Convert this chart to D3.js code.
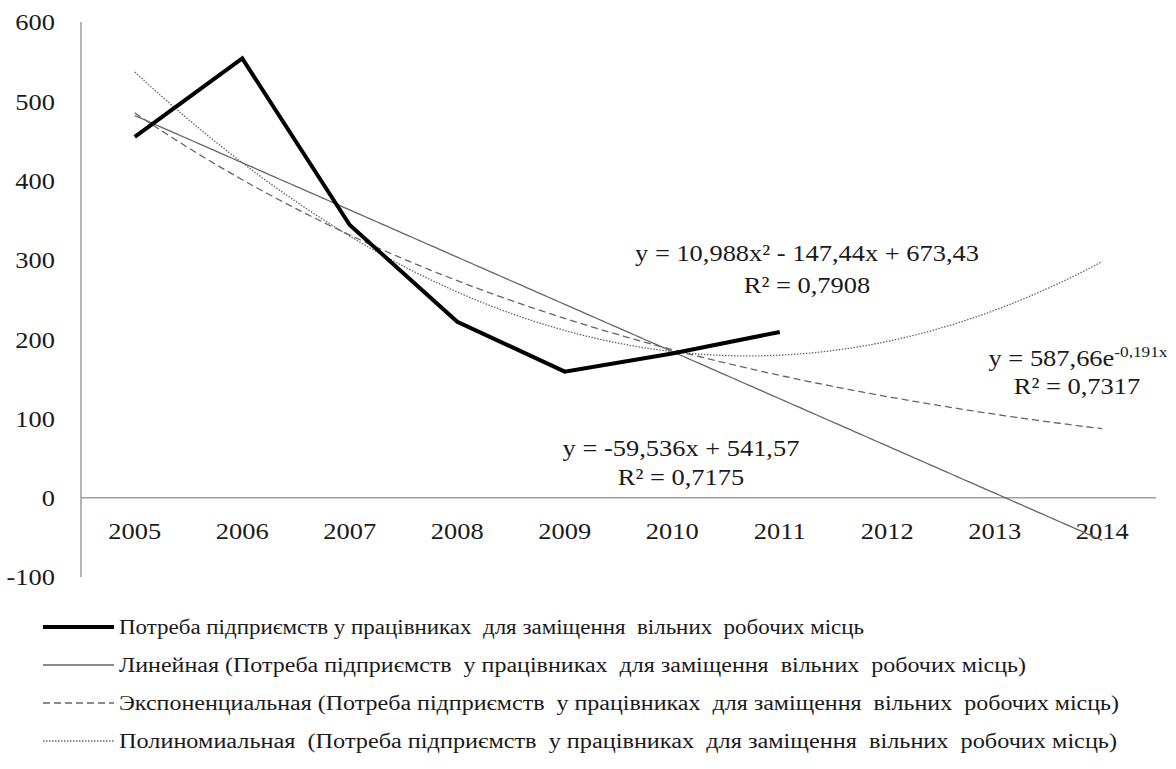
<!DOCTYPE html>
<html>
<head>
<meta charset="utf-8">
<script src="https://cdn.jsdelivr.net/npm/d3@7"></script>
<style>
  html, body { margin: 0; padding: 0; background: #fff; }
  #chart text {
    font-family: "Liberation Serif", "Times New Roman", Times, "Nimbus Roman", "Nimbus Roman No9 L",
                 "FreeSerif", "Noto Serif", "DejaVu Serif", Tinos, serif;
    fill: #1a1a1a; white-space: pre;
  }
</style>
</head>
<body>
<svg id="chart" width="1176" height="769"></svg>
<script>
// Years on the category axis
const years = ["2005", "2006", "2007", "2008", "2009", "2010", "2011", "2012", "2013", "2014"];
// Enterprise demand for workers to fill vacancies (2005–2011)
const demand = [455, 554, 344, 222, 159, 182, 209];
// Trendline coefficients (x = 1 for 2005)
const linearCoef = [-59.536, 541.57];        // y = a*x + b
const expCoef = [587.66, -0.191];            // y = a*e^(b*x)
const polyCoef = [10.988, -147.44, 673.43];  // y = a*x^2 + b*x + c
const yTicks = [-100, 0, 100, 200, 300, 400, 500, 600];
const legendLabels = [
  "Потреба підприємств у працівниках  для заміщення  вільних  робочих місць",
  "Линейная (Потреба підприємств  у працівниках  для заміщення  вільних  робочих місць)",
  "Экспоненциальная (Потреба підприємств  у працівниках  для заміщення  вільних  робочих місць)",
  "Полиномиальная  (Потреба підприємств  у працівниках  для заміщення  вільних  робочих місць)"
];

const svg = d3.select("#chart");
const plotLeft = 81, plotRight = 1156, plotTop = 22, plotBottom = 577;

const x = d3.scaleBand().domain(years).range([plotLeft, plotRight]);
const xi = d3.scaleLinear().domain([0.5, years.length + 0.5]).range([plotLeft, plotRight]);
const y = d3.scaleLinear().domain([-100, 600]).range([plotBottom, plotTop]);

function label(sel, tx, ty, txt, size, anchor, sx) {
  return sel.append("text")
    .attr("transform", `translate(${tx},${ty}) scale(${sx},1)`)
    .attr("text-anchor", anchor)
    .attr("dominant-baseline", "central")
    .style("font-size", size + "px")
    .text(txt);
}

// Y axis line
svg.append("line").attr("x1", plotLeft).attr("x2", plotLeft).attr("y1", plotTop).attr("y2", plotBottom)
  .attr("stroke", "#a0a0a0").attr("stroke-width", 1.6);
// Y tick labels
const yAxis = d3.axisLeft(y).tickValues(yTicks).tickSize(0).tickPadding(0).tickFormat(d3.format("d"));
const yg = svg.append("g").attr("transform", `translate(${plotLeft},0)`).call(yAxis);
yg.attr("font-family", null);
yg.select(".domain").remove();
yg.selectAll(".tick text").remove();
yg.selectAll(".tick").each(function(d) {
  label(d3.select(this), -26, 0, String(d), 23, "end", 1.15);
});

// Zero line with year labels below it
svg.append("line").attr("x1", plotLeft).attr("x2", plotRight).attr("y1", y(0)).attr("y2", y(0))
  .attr("stroke", "#a0a0a0").attr("stroke-width", 1.6);
const xAxis = d3.axisBottom(x).tickSize(0).tickPadding(0);
const xg = svg.append("g").attr("transform", `translate(0,${y(0)})`).call(xAxis);
xg.attr("font-family", null);
xg.select(".domain").remove();
xg.selectAll(".tick text").remove();
xg.selectAll(".tick").each(function(d) {
  label(d3.select(this), 0, 33, d, 23, "middle", 1.15);
});

// Trendlines, sampled from x = 1 (2005) to x = 10 (2014)
const ts = d3.range(1, 10.0001, 0.05);
const trendLine = d3.line().x(d => xi(d[0])).y(d => y(d[1]));
const linPts = ts.map(t => [t, linearCoef[0] * t + linearCoef[1]]);
const expPts = ts.map(t => [t, expCoef[0] * Math.exp(expCoef[1] * t)]);
const polyPts = ts.map(t => [t, polyCoef[0] * t * t + polyCoef[1] * t + polyCoef[2]]);

svg.append("path").attr("d", trendLine(linPts)).attr("fill", "none")
  .attr("stroke", "#666").attr("stroke-width", 1.3);
svg.append("path").attr("d", trendLine(expPts)).attr("fill", "none")
  .attr("stroke", "#666").attr("stroke-width", 1.3).attr("stroke-dasharray", "7,4");
svg.append("path").attr("d", trendLine(polyPts)).attr("fill", "none")
  .attr("stroke", "#666").attr("stroke-width", 1.3).attr("stroke-dasharray", "1.5,1.5");

// Main series
const mainLine = d3.line().x((d, i) => xi(i + 1)).y(d => y(d));
svg.append("path").attr("d", mainLine(demand)).attr("fill", "none")
  .attr("stroke", "#000").attr("stroke-width", 4).attr("stroke-linejoin", "miter");

// Trendline equations
const eq = svg.append("g");
label(eq, 807, 253, "y = 10,988x² - 147,44x + 673,43", 23, "middle", 1.15);
label(eq, 807, 285, "R² = 0,7908", 23, "middle", 1.15);
const expEq = label(eq, 1078, 358, "y = 587,66e", 23, "middle", 1.15);
expEq.append("tspan").attr("dy", -7).style("font-size", "15px").text("-0,191x");
label(eq, 1077, 386, "R² = 0,7317", 23, "middle", 1.15);
label(eq, 681, 448, "y = -59,536x + 541,57", 23, "middle", 1.15);
label(eq, 681, 477, "R² = 0,7175", 23, "middle", 1.15);

// Legend
const legendY = [627, 665, 703, 741];
const legendW = [745, 907, 1000, 998];
const lg = svg.append("g");
legendLabels.forEach((txt, i) => {
  const ly = legendY[i];
  const ln = lg.append("line").attr("x1", 43).attr("x2", 114).attr("y1", ly).attr("y2", ly);
  if (i === 0) ln.attr("stroke", "#000").attr("stroke-width", 4);
  else {
    ln.attr("stroke", "#666").attr("stroke-width", 1.3);
    if (i === 2) ln.attr("stroke-dasharray", "7,4");
    if (i === 3) ln.attr("stroke-dasharray", "1.5,1.5");
  }
  lg.append("text").attr("x", 119).attr("y", ly).attr("dominant-baseline", "central")
    .style("font-size", "20px")
    .attr("textLength", legendW[i]).attr("lengthAdjust", "spacingAndGlyphs")
    .text(txt);
});
</script>
</body>
</html>
